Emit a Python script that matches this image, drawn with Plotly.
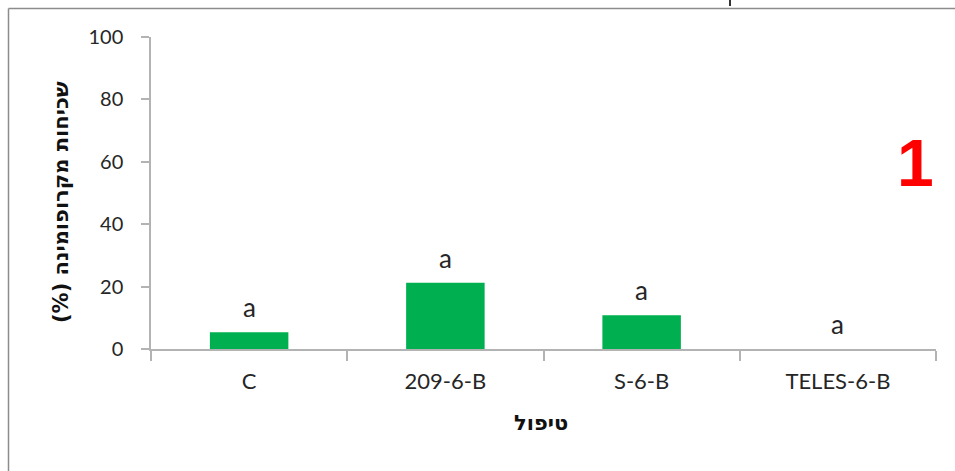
import plotly.graph_objects as go

# Treatments and mean macrophomina incidence (%)
treatments = ["C", "209-6-B", "S-6-B", "TELES-6-B"]
incidence = [5.4, 21.2, 10.8, 0.0]
letters = ["a", "a", "a", "a"]

y_ticks = [0, 20, 40, 60, 80, 100]

W, H = 955, 471
ML, MR, MT, MB = 151, 19, 37, 122
plot_w = W - ML - MR
plot_h = H - MT - MB


def px_x(p):
    return (p - ML) / plot_w


def px_y(p):
    return (H - MB - p) / plot_h


axis_col = "#b3b3b3"
text_col = "#262626"

fig = go.Figure()
fig.add_trace(go.Bar(
    x=treatments,
    y=incidence,
    marker=dict(color="#00B050", line=dict(width=0)),
    width=0.4,
    hoverinfo="x+y",
))

# significance letters above each bar
for t, v, s in zip(treatments, incidence, letters):
    fig.add_annotation(
        x=t, y=v, xref="x", yref="y", text=s, showarrow=False,
        yanchor="middle", yshift=25,
        font=dict(family="Lato", size=26, color=text_col),
    )

# axis titles (trailing RLM keeps the Hebrew line right-to-left)
fig.add_annotation(
    x=px_x(61), y=px_y(202), xref="paper", yref="paper",
    text="<b>שכיחות מקרופומינה (%)\u200f</b>", textangle=-90, showarrow=False,
    xanchor="center", yanchor="middle",
    font=dict(family="DejaVu Sans", size=21, color="#111"),
)
fig.add_annotation(
    x=px_x(541), y=px_y(423), xref="paper", yref="paper",
    text="<b>טיפול</b>", showarrow=False,
    xanchor="center", yanchor="middle",
    font=dict(family="DejaVu Sans", size=21, color="#111"),
)

# panel number
fig.add_annotation(
    x=px_x(915), y=px_y(163), xref="paper", yref="paper",
    text="<b>1</b>", showarrow=False,
    xanchor="center", yanchor="middle",
    font=dict(family="Liberation Sans", size=66, color="#FF0000"),
)

# chart frame (left and top edges)
frame = dict(color="#8c8c8c", width=1.5)
fig.add_shape(type="line", xref="paper", yref="paper",
              x0=px_x(8.5), x1=px_x(8.5), y0=px_y(480), y1=px_y(8.5), line=frame)
fig.add_shape(type="line", xref="paper", yref="paper",
              x0=px_x(8.5), x1=px_x(960), y0=px_y(8.5), y1=px_y(8.5), line=frame)
fig.add_shape(type="line", xref="paper", yref="paper",
              x0=px_x(730), x1=px_x(730), y0=px_y(0), y1=px_y(6),
              line=dict(color="#333", width=2))

fig.update_layout(
    width=W, height=H,
    margin=dict(l=ML, r=MR, t=MT, b=MB, pad=0),
    paper_bgcolor="white", plot_bgcolor="white",
    showlegend=False,
    bargap=0.6,
)
fig.update_xaxes(
    type="category",
    showline=True, linecolor=axis_col, linewidth=1.5,
    ticks="outside", tickson="boundaries", ticklen=10, tickcolor=axis_col, tickwidth=1.5,
    ticklabelstandoff=12,
    tickfont=dict(family="Lato", size=22, color=text_col),
    showgrid=False, zeroline=False,
)
fig.update_yaxes(
    range=[0, 100], tickvals=y_ticks,
    showline=True, linecolor=axis_col, linewidth=1.5,
    ticks="outside", ticklen=8, tickcolor=axis_col, tickwidth=1.5,
    ticklabelstandoff=14,
    tickfont=dict(family="Lato", size=20, color=text_col),
    showgrid=False, zeroline=False,
)

fig.write_html("out.html")
